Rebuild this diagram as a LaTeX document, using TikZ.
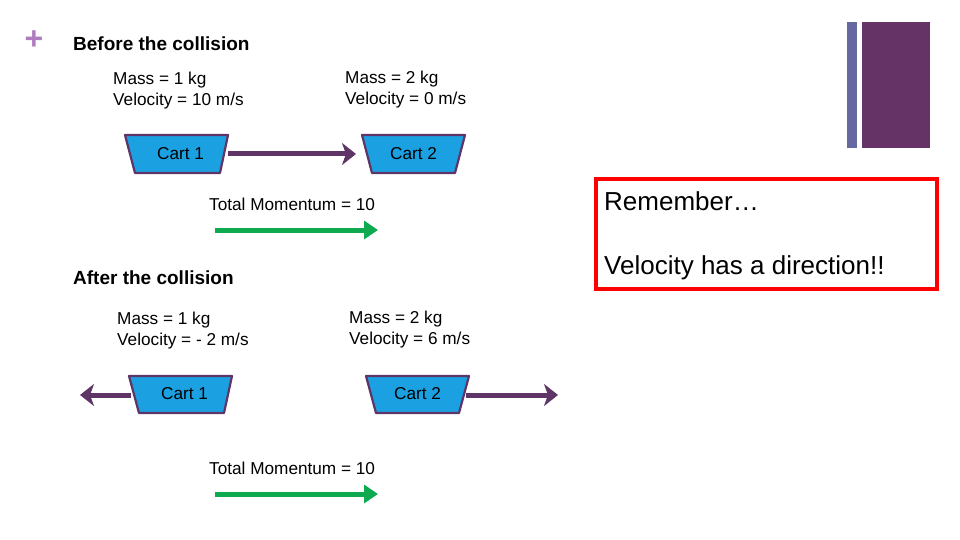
\documentclass[tikz,border=0pt]{standalone}
\usepackage{fontspec}
\setmainfont{Liberation Sans}
\usetikzlibrary{arrows.meta}
\definecolor{cartblue}{HTML}{1BA1E2}
\definecolor{dpurple}{HTML}{5E3566}
\definecolor{bpurple}{HTML}{663366}
\definecolor{slate}{HTML}{6668A0}
\definecolor{mgreen}{HTML}{0EAA50}
\definecolor{plus}{HTML}{B07CC0}
\tikzset{
 cart/.style={fill=cartblue,draw=dpurple,line width=2.2pt,line join=round},
 txt/.style={anchor=west,inner sep=0pt,font=\fontsize{17.2}{21}\selectfont,align=left},
 mv/.style={dpurple,line width=5pt,-{Stealth[length=14pt,width=22pt,inset=4pt]}},
 gv/.style={mgreen,line width=5pt,-{Triangle[length=14pt,width=18pt]}},
}
\begin{document}
\begin{tikzpicture}[x=1pt,y=-1pt]
\useasboundingbox (0,0) rectangle (960,540);
\node[inner sep=0pt,text=plus,font=\fontsize{32}{32}\selectfont\bfseries] (plus) at (34,40) {+};
\fill[slate] (847,22) rectangle (857,148);
\fill[bpurple] (862,22) rectangle (930,148);
\node[txt,font=\fontsize{19}{22}\selectfont\bfseries] (t1) at (73,44) {Before the collision};
\node[txt] (m1) at (113,91) {Mass = 1 kg\\Velocity = 10 m/s};
\node[txt] (m2) at (345,90) {Mass = 2 kg\\Velocity = 0 m/s};
\draw[cart] (125,135) -- (228,135) -- (220,173) -- (135,173) -- cycle;
\node[txt] (c1) at (157,154) {Cart 1};
\draw[cart] (362,135) -- (465,135) -- (455,173) -- (372,173) -- cycle;
\node[txt] (c2) at (390,154) {Cart 2};
\coordinate (a1) at (228,154); \coordinate (b1) at (356,154);
\draw[mv] (a1) -- (b1);
\node[txt] (tm1) at (209,204) {Total Momentum = 10};
\coordinate (g1a) at (215,230); \coordinate (g1b) at (378,230);
\draw[gv] (g1a) -- (g1b);
\node[txt,font=\fontsize{19}{22}\selectfont\bfseries] (t2) at (73,278) {After the collision};
\node[txt] (m3) at (117,331) {Mass = 1 kg\\Velocity = - 2 m/s};
\node[txt] (m4) at (349,330) {Mass = 2 kg\\Velocity = 6 m/s};
\draw[cart] (129,376) -- (232,376) -- (224,413) -- (139,413) -- cycle;
\node[txt] (c3) at (161,394) {Cart 1};
\draw[cart] (366,376) -- (469,376) -- (459,413) -- (376,413) -- cycle;
\node[txt] (c4) at (394,394) {Cart 2};
\coordinate (a3) at (131,395); \coordinate (b3) at (80,395);
\draw[mv] (a3) -- (b3);
\coordinate (a4) at (466,395); \coordinate (b4) at (558,395);
\draw[mv] (a4) -- (b4);
\node[txt] (tm2) at (209,468) {Total Momentum = 10};
\coordinate (g2a) at (215,494); \coordinate (g2b) at (378,494);
\draw[gv] (g2a) -- (g2b);
\draw[red,line width=4pt] (596,179) rectangle (937,289);
\node[txt,font=\fontsize{26}{31}\selectfont] (r1) at (604,201) {Remember…};
\node[txt,font=\fontsize{26}{31}\selectfont] (r2) at (604,268) {Velocity has a direction!!};
\end{tikzpicture}
\end{document}
